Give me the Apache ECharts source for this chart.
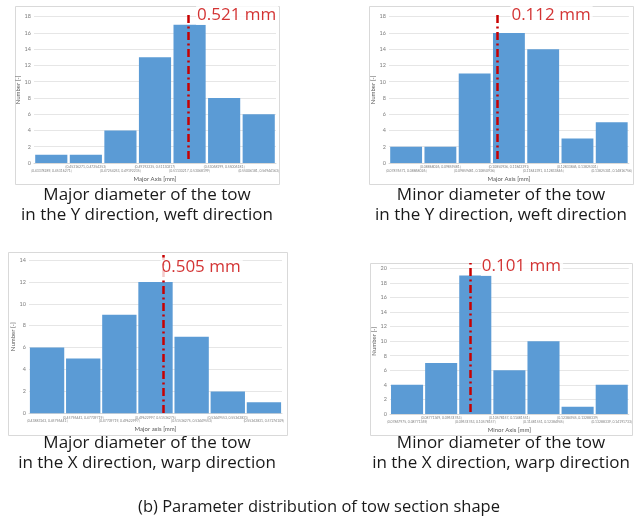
<!DOCTYPE html>
<html>
<head>
<meta charset="utf-8">
<script src="https://cdn.jsdelivr.net/npm/echarts@6/dist/echarts.min.js"></script>
<style>
html,body{margin:0;padding:0;background:#fff;}
#chart{width:635px;height:518px;}
</style>
</head>
<body>
<div id="chart"></div>
<script>
// ---- Data ----
// Bin edges (mm) for each histogram
const majorYEdges = [0.43378289, 0.45316271, 0.47254253, 0.49192235, 0.51130217, 0.53068199, 0.55006181, 0.56944163];
const majorYCounts = [1, 1, 4, 13, 17, 8, 6];
const majorYMean = 0.521;

const minorYEdges = [0.07876571, 0.08868026, 0.09859481, 0.10850936, 0.11842391, 0.12833846, 0.13825301, 0.14816756];
const minorYCounts = [2, 2, 11, 16, 14, 3, 5];
const minorYMean = 0.112;

const majorXEdges = [0.43883163, 0.45796441, 0.47709719, 0.49622997, 0.51536275, 0.53449553, 0.55362831, 0.57276109];
const majorXCounts = [6, 5, 9, 12, 7, 2, 1];
const majorXMean = 0.505;

const minorXEdges = [0.07867975, 0.08771369, 0.09674763, 0.10578157, 0.11481551, 0.12384945, 0.13288339, 0.14191733];
const minorXCounts = [4, 7, 19, 6, 10, 1, 4];
const minorXMean = 0.101;

const yMaxes = [18, 18, 14, 20];
const xTitles = ['Major Axis [mm]', 'Major Axis [mm]', 'Major axis [mm]', 'Minor Axis [mm]'];
const yTitle = 'Number [-]';
const captions = [
  ['Major diameter of the tow', 'in the Y direction, weft direction'],
  ['Minor diameter of the tow', 'in the Y direction, weft direction'],
  ['Major diameter of the tow', 'in the X direction, warp direction'],
  ['Minor diameter of the tow', 'in the X direction, warp direction']
];
const figureCaption = '(b) Parameter distribution of tow section shape';

function binLabels(edges) {
  const out = [];
  for (let i = 0; i < edges.length - 1; i++) {
    out.push((i === 0 ? '[' : '(') + edges[i].toFixed(8) + ', ' + edges[i + 1].toFixed(8) + ']');
  }
  return out;
}

const panelsData = [
  { edges: majorYEdges, counts: majorYCounts, mean: majorYMean },
  { edges: minorYEdges, counts: minorYCounts, mean: minorYMean },
  { edges: majorXEdges, counts: majorXCounts, mean: majorXMean },
  { edges: minorXEdges, counts: minorXCounts, mean: minorXMean }
];

// ---- Layout (style only) ----
const layout = [
  { left: 34, top: 16.7, width: 242, height: 146.3, ovTop: 12, ovBottom: 159, labelDy: 3, box: [15, 6, 264, 178], cap: [147, 205], yNameGap: 11, xNameGap: 13, barGap: '7%' },
  { left: 389, top: 16.7, width: 240, height: 146.3, ovTop: 13, ovBottom: 159, labelDy: 2, box: [369, 6, 264, 178], cap: [501, 205], yNameGap: 12, xNameGap: 13, barGap: '7%' },
  { left: 29, top: 260, width: 253, height: 153.3, ovTop: 255, ovBottom: 413, labelDy: 12.5, box: [8, 252, 279, 183], cap: [147, 453], yNameGap: 13, xNameGap: 13, barGap: '5%' },
  { left: 390, top: 268.3, width: 239, height: 145.7, ovTop: 263, ovBottom: 412, labelDy: 3, box: [370, 263, 262, 172], cap: [501, 453], yNameGap: 13, xNameGap: 13, barGap: '6%' }
];

const BAR = '#5b9bd5';
const RED = '#c80000';
const grids = [], xAxes = [], yAxes = [], series = [], graphics = [];

panelsData.forEach((p, i) => {
  const L = layout[i];
  const cats = binLabels(p.edges);
  grids.push({ left: L.left, top: L.top, width: L.width, height: L.height, containLabel: false });
  const gi = grids.length - 1;
  xAxes.push({
    type: 'category', gridIndex: gi, data: cats,
    axisLine: { show: true, lineStyle: { color: '#d9d9d9', width: 1 } },
    axisTick: { show: false },
    axisLabel: {
      interval: 0, fontSize: 3.4, color: '#7f7f7f', margin: 2.5, lineHeight: 3.6,
      fontFamily: 'Lato',
      formatter: (v, idx) => (idx % 2 === 0 ? '\n' + v : v)
    },
    name: xTitles[i], nameLocation: 'middle', nameGap: L.xNameGap,
    nameTextStyle: { fontSize: 6, color: '#595959', fontFamily: 'Lato' }
  });
  yAxes.push({
    type: 'value', gridIndex: gi, min: 0, max: yMaxes[i], interval: 2,
    axisLine: { show: false }, axisTick: { show: false },
    splitLine: { lineStyle: { color: '#e6e6e6', width: 1 } },
    axisLabel: { fontSize: 5.5, color: '#7f7f7f', margin: 3, fontFamily: 'Lato' },
    name: yTitle, nameLocation: 'middle', nameGap: L.yNameGap, nameRotate: 90,
    nameTextStyle: { fontSize: 6, color: '#595959', fontFamily: 'Lato' }
  });
  series.push({
    type: 'bar', xAxisIndex: xAxes.length - 1, yAxisIndex: yAxes.length - 1,
    data: p.counts, barCategoryGap: L.barGap,
    itemStyle: { color: BAR }, silent: true, animation: false
  });
  grids.push({ left: L.left, top: L.ovTop, width: L.width, height: L.ovBottom - L.ovTop });
  const go = grids.length - 1;
  xAxes.push({ type: 'value', gridIndex: go, min: p.edges[0], max: p.edges[p.edges.length - 1], show: false });
  yAxes.push({ type: 'value', gridIndex: go, min: 0, max: 1, show: false });
  series.push({
    type: 'scatter', xAxisIndex: xAxes.length - 1, yAxisIndex: yAxes.length - 1,
    data: [[p.mean, 1]], symbolSize: 1, itemStyle: { color: 'rgba(0,0,0,0)' },
    animation: false, silent: true, z: 5,
    label: {
      show: true, position: 'right', distance: 6, offset: [0, L.labelDy],
      formatter: p.mean.toFixed(3) + ' mm',
      fontSize: 17, color: RED, fontFamily: 'Open Sans',
      backgroundColor: '#ffffff', padding: [2, 2, 1, 1]
    },
    markLine: {
      symbol: 'none', silent: true, animation: false,
      label: { show: false },
      lineStyle: { color: RED, width: 2.5, type: [8, 3.5, 2, 3.5] },
      data: [{ xAxis: p.mean }]
    }
  });
  graphics.push({
    type: 'rect', shape: { x: L.box[0] + 0.5, y: L.box[1] + 0.5, width: L.box[2], height: L.box[3] },
    style: { fill: null, stroke: '#d9d9d9', lineWidth: 1 }, z: -10, silent: true
  });
  graphics.push({
    type: 'text', x: L.cap[0], y: L.cap[1], silent: true,
    style: {
      text: captions[i].join('\n'), textAlign: 'center', textVerticalAlign: 'middle',
      font: '17px "Open Sans"', lineHeight: 20.5, fill: '#1a1a1a'
    }
  });
});

graphics.push({
  type: 'text', x: 319, y: 507, silent: true,
  style: { text: figureCaption, textAlign: 'center', textVerticalAlign: 'middle', font: '16.5px "Open Sans"', fill: '#1a1a1a' }
});

const chart = echarts.init(document.getElementById('chart'), null, { renderer: 'canvas' });
chart.setOption({
  animation: false,
  backgroundColor: '#ffffff',
  grid: grids, xAxis: xAxes, yAxis: yAxes, series: series,
  graphic: graphics
});
</script>
</body>
</html>
